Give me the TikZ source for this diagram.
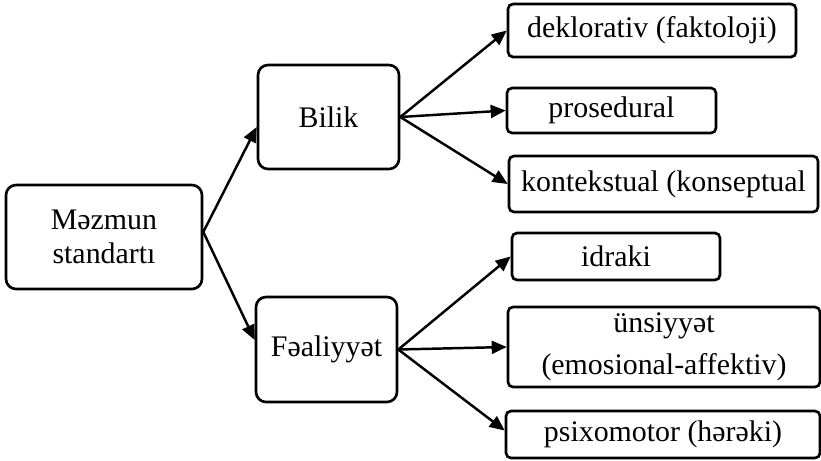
\documentclass[tikz,border=0pt]{standalone}
\usepackage{fontspec}
\setmainfont{Liberation Serif}
\usetikzlibrary{arrows.meta}
\tikzset{
	box/.style={draw, line width=1.5pt, inner sep=0pt, align=center, font=\fontsize{17}{20}\selectfont},
	big box/.style={box, rounded corners=0.2cm},
	small box/.style={box, rounded corners=0.1cm},
	arr/.style={line width=1.4pt, -{Triangle[length=0.3cm, width=0.26cm]}}
}

\begin{document}
\begin{tikzpicture}
	\useasboundingbox (0,0) rectangle (16.42,-9.2);
	\node[big box, minimum width=3.92cm, minimum height=2.08cm] at (2.08,-4.74) (mezmun-standarti) {Məzmun\\[-1pt]standartı};
	\node[big box, minimum width=2.82cm, minimum height=2.08cm] at (6.57,-2.34) (bilik) {Bilik};
	\node[big box, minimum width=2.82cm, minimum height=2.1cm] at (6.53,-6.99) (fealiyyet) {Fəaliyyət};

	\node[small box, minimum width=5.76cm, minimum height=1.06cm] at (13.04,-0.61) (deklorativ) {deklorativ (faktoloji)};
	\node[small box, minimum width=4.18cm, minimum height=0.9cm] at (12.23,-2.21) (prosedural) {prosedural};
	\node[small box, minimum width=6.18cm, minimum height=1.12cm] at (13.27,-3.68) (kontekstual) {kontekstual (konseptual};
	\node[small box, minimum width=4.16cm, minimum height=0.94cm] at (12.32,-5.13) (idraki) {idraki};
	\node[small box, minimum width=6.24cm, minimum height=1.6cm] at (13.28,-6.94) (unsiyyet) {ünsiyyət\\[4pt](emosional-affektiv)};
	\node[small box, minimum width=6.28cm, minimum height=0.94cm] at (13.26,-8.69) (psixomotor) {psixomotor (hərəki)};

	\draw[arr] ([yshift=0.1cm]mezmun-standarti.east) to ([yshift=-0.2cm]bilik.west);
	\draw[arr] ([yshift=0.1cm]mezmun-standarti.east) to ([yshift=0.19cm]fealiyyet.west);

	\draw[arr] (bilik.east) to (deklorativ.west);
	\draw[arr] (bilik.east) to (prosedural.west);
	\draw[arr] (bilik.east) to (kontekstual.west);

	\draw[arr] (fealiyyet.east) to (idraki.west);
	\draw[arr] (fealiyyet.east) to (unsiyyet.west);
	\draw[arr] (fealiyyet.east) to ([yshift=0.08cm]psixomotor.west);
\end{tikzpicture}
\end{document}
